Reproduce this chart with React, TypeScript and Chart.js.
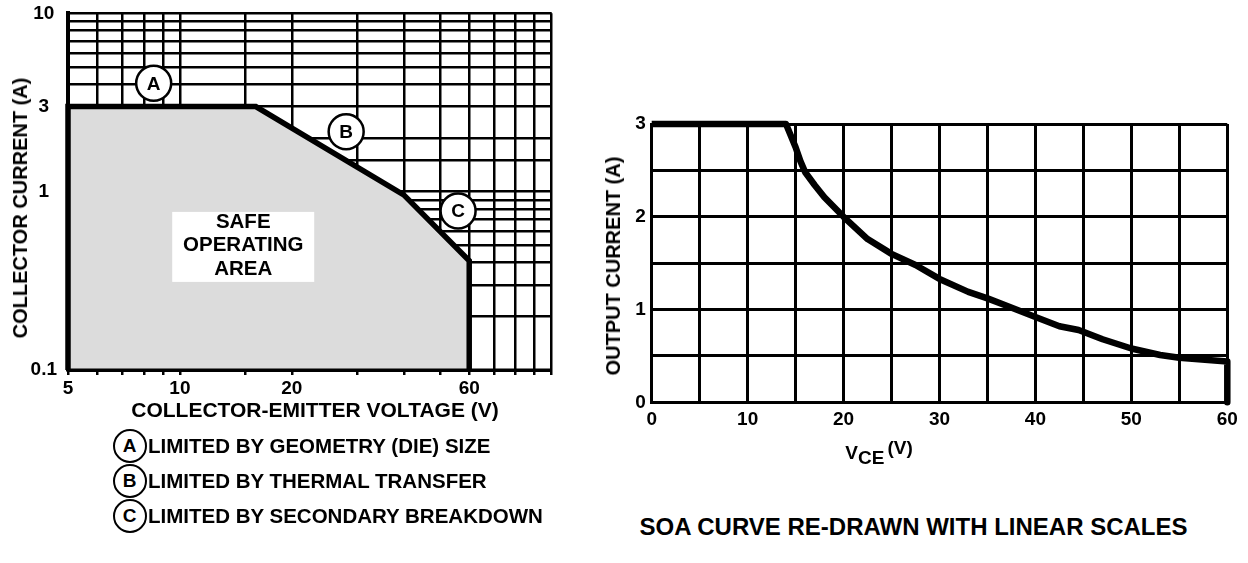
import React, { useEffect, useRef } from 'react';
import { Chart, registerables } from 'chart.js';

Chart.register(...registerables);

const FONT = '"Liberation Sans", Arial, Helvetica, sans-serif';

// ---- Left chart (log-log SOA) ----
const soaVoltage = [5, 5, 16, 40, 60, 60];
const soaCurrent = [0.1, 3, 3, 0.96, 0.41, 0.1];
const logXLabels = [5, 10, 20, 60];
const logYLabels = [0.1, 1, 3, 10];
const regionLetters = ['A', 'B', 'C'];
const regionVoltage = [8.5, 28, 56];
const regionCurrent = [4.05, 2.17, 0.78];
const areaLines = ['SAFE', 'OPERATING', 'AREA'];
const areaVoltage = [14.8];
const areaCurrent = [0.49];
const legendTexts = [
  'LIMITED BY GEOMETRY (DIE) SIZE',
  'LIMITED BY THERMAL TRANSFER',
  'LIMITED BY SECONDARY BREAKDOWN',
];

// ---- Right chart (linear SOA) ----
const linVoltage = [0, 14, 15, 15.5, 16, 17, 18, 20, 22.5, 25, 27.5, 30, 33, 35, 37, 40, 42.5, 44.5, 47, 50, 53, 55, 58, 60, 60];
const linCurrent = [3, 3, 2.75, 2.6, 2.48, 2.34, 2.21, 2.0, 1.76, 1.6, 1.48, 1.33, 1.19, 1.12, 1.04, 0.92, 0.82, 0.78, 0.68, 0.58, 0.51, 0.48, 0.455, 0.44, 0];
const linXLabels = [0, 10, 20, 30, 40, 50, 60];
const linYLabels = [0, 1, 2, 3];

const near = (list: number[], v: number) => list.some((l) => Math.abs(l - v) <= Math.abs(l) * 1e-6 + 1e-9);

const soaAnnotations = {
  id: 'soaAnnotations',
  afterDatasetsDraw(chart: any) {
    const { ctx, chartArea, scales } = chart;
    const x = scales.x;
    const y = scales.y;
    ctx.save();
    ctx.strokeStyle = '#000';
    ctx.lineWidth = 3;
    ctx.beginPath();
    ctx.moveTo(chartArea.left, chartArea.bottom);
    ctx.lineTo(chartArea.right, chartArea.bottom);
    ctx.stroke();

    const cx = x.getPixelForValue(areaVoltage[0]);
    const cy = y.getPixelForValue(areaCurrent[0]);
    ctx.fillStyle = '#fff';
    ctx.fillRect(cx - 71, cy - 35, 142, 70);
    ctx.fillStyle = '#000';
    ctx.font = `bold 20.5px ${FONT}`;
    ctx.textAlign = 'center';
    ctx.textBaseline = 'middle';
    areaLines.forEach((t, i) => ctx.fillText(t, cx, cy - 1.5 + (i - 1) * 23.5));

    ctx.font = `bold 19px ${FONT}`;
    regionLetters.forEach((l, i) => {
      const px = x.getPixelForValue(regionVoltage[i]);
      const py = y.getPixelForValue(regionCurrent[i]);
      ctx.beginPath();
      ctx.arc(px, py, 17.5, 0, Math.PI * 2);
      ctx.fillStyle = '#fff';
      ctx.fill();
      ctx.lineWidth = 2.5;
      ctx.strokeStyle = '#000';
      ctx.stroke();
      ctx.fillStyle = '#000';
      ctx.fillText(l, px, py + 1);
    });
    ctx.restore();
  },
};

const tickFont = { family: FONT, size: 19, weight: 'bold' as const };

const fixY = (w: number) => (s: any) => {
  s.width = w;
  s.paddingTop = 0;
  s.paddingBottom = 0;
};
const fixX = (h: number) => (s: any) => {
  s.height = h;
  s.paddingLeft = 0;
  s.paddingRight = 0;
};

function leftConfig(): any {
  return {
    type: 'scatter',
    data: {
      datasets: [
        {
          data: soaVoltage.map((v, i) => ({ x: v, y: soaCurrent[i] })),
          showLine: true,
          borderColor: '#000',
          borderWidth: 5.5,
          backgroundColor: '#dcdcdc',
          fill: 'start',
          pointRadius: 0,
          tension: 0,
          clip: 10,
          borderJoinStyle: 'miter',
        },
      ],
    },
    options: {
      animation: false,
      responsive: false,
      maintainAspectRatio: false,
      events: [],
      layout: { padding: { top: 13.3, right: 28.3, bottom: 0, left: 0 } },
      plugins: { legend: { display: false }, tooltip: { enabled: false } },
      scales: {
        x: {
          type: 'logarithmic',
          min: 5,
          max: 100,
          grid: { color: '#000', lineWidth: 2.5, drawTicks: true, tickLength: 5, tickColor: '#000', tickWidth: 2.5 },
          border: { display: true, color: '#000', width: 3 },
          ticks: {
            autoSkip: false,
            maxRotation: 0,
            minRotation: 0,
            padding: 2,
            color: '#000',
            font: tickFont,
            callback: (v: any) => (near(logXLabels, Number(v)) ? String(Number(v)) : ''),
          },
          afterFit: fixX(60),
        },
        y: {
          type: 'logarithmic',
          min: 0.1,
          max: 10,
          grid: { color: '#000', lineWidth: 2.5, drawTicks: false },
          border: { display: true, color: '#000', width: 4 },
          ticks: {
            autoSkip: false,
            crossAlign: 'center',
            padding: 11,
            color: '#000',
            font: tickFont,
            callback: (v: any) => (near(logYLabels, Number(v)) ? String(Number(v)) : ''),
          },
          afterFit: fixY(68),
        },
      },
    },
    plugins: [soaAnnotations],
  };
}

function rightConfig(): any {
  return {
    type: 'scatter',
    data: {
      datasets: [
        {
          data: linVoltage.map((v, i) => ({ x: v, y: linCurrent[i] })),
          showLine: true,
          borderColor: '#000',
          borderWidth: 6.5,
          pointRadius: 0,
          tension: 0,
          fill: false,
          clip: 10,
          borderJoinStyle: 'round',
        },
      ],
    },
    options: {
      animation: false,
      responsive: false,
      maintainAspectRatio: false,
      events: [],
      layout: { padding: { top: 24, right: 20.7, bottom: 0, left: 0 } },
      plugins: { legend: { display: false }, tooltip: { enabled: false } },
      scales: {
        x: {
          type: 'linear',
          min: 0,
          max: 60,
          grid: { color: '#000', lineWidth: 3, drawTicks: false },
          border: { display: true, color: '#000', width: 3 },
          ticks: {
            stepSize: 5,
            autoSkip: false,
            maxRotation: 0,
            minRotation: 0,
            padding: 6,
            color: '#000',
            font: tickFont,
            callback: (v: any) => (near(linXLabels, Number(v)) ? String(Number(v)) : ''),
          },
          afterFit: fixX(77.7),
        },
        y: {
          type: 'linear',
          min: 0,
          max: 3,
          grid: { color: '#000', lineWidth: 3, drawTicks: false },
          border: { display: true, color: '#000', width: 3 },
          ticks: {
            stepSize: 0.5,
            autoSkip: false,
            padding: 6,
            color: '#000',
            font: tickFont,
            callback: (v: any) => (near(linYLabels, Number(v)) ? String(Number(v)) : ''),
          },
          afterFit: fixY(51.7),
        },
      },
    },
  };
}

function ChartCanvas(props: { build: () => any; left: number; top: number; width: number; height: number }) {
  const ref = useRef<HTMLCanvasElement | null>(null);
  useEffect(() => {
    if (!ref.current) return;
    const chart = new Chart(ref.current, props.build());
    return () => chart.destroy();
  }, []);
  return (
    <canvas
      ref={ref}
      width={props.width}
      height={props.height}
      style={{ position: 'absolute', left: props.left, top: props.top, width: props.width, height: props.height }}
    />
  );
}

const textStyle: React.CSSProperties = {
  position: 'absolute',
  fontFamily: FONT,
  fontWeight: 'bold',
  color: '#000',
  whiteSpace: 'nowrap',
  lineHeight: 1,
};

export default function App() {
  return (
    <div style={{ position: 'absolute', left: 0, top: 0, width: 1248, height: 563, background: '#fff', overflow: 'hidden' }}>
      <ChartCanvas build={leftConfig} left={0} top={0} width={580} height={430} />
      <ChartCanvas build={rightConfig} left={600} top={100} width={648} height={380} />

      {/* left axis titles */}
      <div style={{ ...textStyle, fontSize: 20, left: 19.5, top: 207.5, transform: 'translate(-50%, -50%) rotate(-90deg)' }}>
        COLLECTOR CURRENT (A)
      </div>
      <div style={{ ...textStyle, fontSize: 21, left: 315, top: 409, transform: 'translate(-50%, -50%)' }}>
        COLLECTOR-EMITTER VOLTAGE (V)
      </div>

      {/* legend */}
      {legendTexts.map((t, i) => (
        <React.Fragment key={t}>
          <div
            style={{
              position: 'absolute',
              left: 130 - 17.5,
              top: 446 + i * 35 - 17.5,
              width: 35 - 5,
              height: 35 - 5,
              border: '2.5px solid #000',
              borderRadius: '50%',
              background: '#fff',
              display: 'flex',
              alignItems: 'center',
              justifyContent: 'center',
              fontFamily: FONT,
              fontWeight: 'bold',
              fontSize: 19,
            }}
          >
            {regionLetters[i]}
          </div>
          <div style={{ ...textStyle, fontSize: 20.5, left: 148, top: 446 + i * 35, transform: 'translateY(-50%)' }}>{t}</div>
        </React.Fragment>
      ))}

      {/* right axis titles */}
      <div style={{ ...textStyle, fontSize: 20, left: 612.5, top: 266, transform: 'translate(-50%, -50%) rotate(-90deg)' }}>
        OUTPUT CURRENT (A)
      </div>
      <div style={{ ...textStyle, fontSize: 19, left: 879, top: 452, transform: 'translate(-50%, -50%)' }}>
        <span>V</span>
        <span style={{ position: 'relative', top: 5 }}>CE</span>
        <span style={{ position: 'relative', top: -5, marginLeft: 3 }}>(V)</span>
      </div>
      <div style={{ ...textStyle, fontSize: 24, left: 913.5, top: 527, transform: 'translate(-50%, -50%)' }}>
        SOA CURVE RE-DRAWN WITH LINEAR SCALES
      </div>
    </div>
  );
}
